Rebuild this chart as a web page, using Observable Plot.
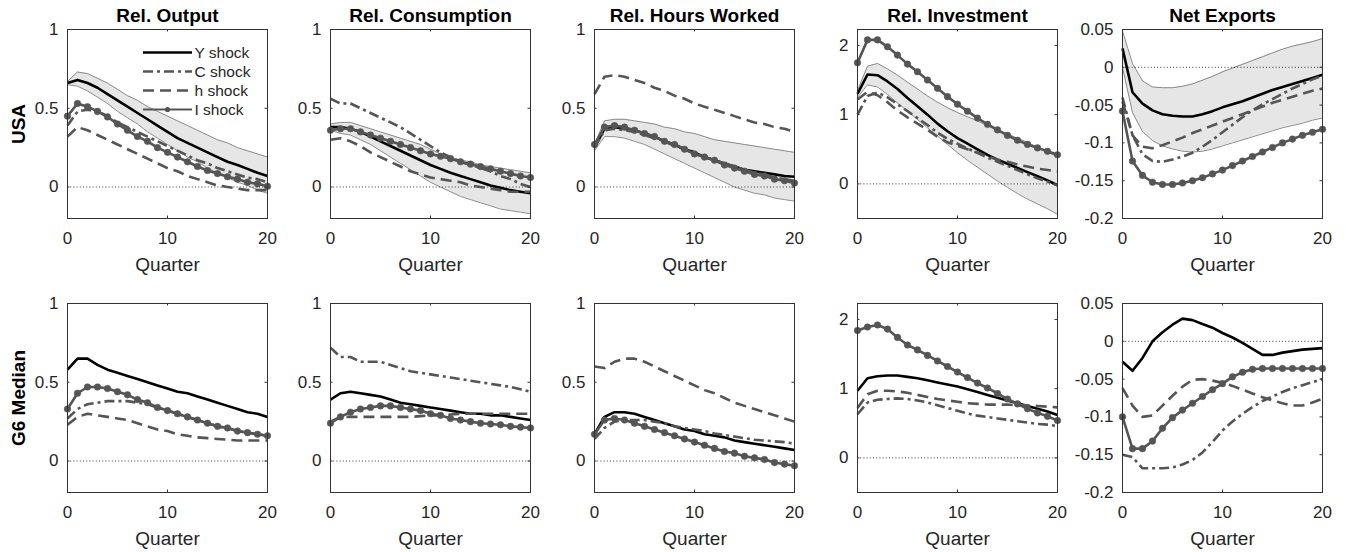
<!DOCTYPE html>
<html><head><meta charset="utf-8">
<script src="https://cdn.jsdelivr.net/npm/d3@7"></script>
<script src="https://cdn.jsdelivr.net/npm/@observablehq/plot@0.6"></script>
<style>
body{margin:0;background:#fff;}
#fig{position:relative;width:1346px;height:552px;overflow:hidden;background:#fff;}
</style></head><body><div id="fig"></div>
<script>
// ---------------- DATA ----------------
const quarters = [0,1,2,3,4,5,6,7,8,9,10,11,12,13,14,15,16,17,18,19,20];
const shocks = ["Y shock","C shock","h shock","I shock"];
const panelTitles = ["Rel. Output","Rel. Consumption","Rel. Hours Worked","Rel. Investment","Net Exports"];
const regions = ["USA","G6 Median"];
const xTicks = [0,10,20];
const yTicksSmall = [0,0.5,1];
const yTicksInv = [0,1,2];
const yTicksNX = [-0.2,-0.15,-0.1,-0.05,0,0.05];

// USA – Rel. Output
const usaOutY  = [.66,.68,.66,.63,.59,.55,.51,.47,.43,.39,.35,.31,.28,.25,.22,.19,.16,.14,.115,.09,.07];
const usaOutHi = [.67,.73,.72,.69,.66,.62,.58,.55,.51,.48,.45,.42,.39,.36,.33,.30,.28,.25,.23,.21,.19];
const usaOutLo = [.65,.64,.61,.57,.53,.48,.44,.40,.35,.31,.27,.23,.19,.16,.12,.09,.06,.03,.01,-.02,-.04];
const usaOutC  = [.39,.48,.49,.48,.45,.41,.38,.35,.32,.29,.26,.23,.20,.17,.15,.12,.10,.08,.06,.05,.03];
const usaOutH  = [.32,.38,.36,.33,.30,.27,.24,.21,.18,.15,.12,.10,.07,.05,.03,.01,0,-.01,-.02,-.02,-.02];
const usaOutI  = [.45,.53,.51,.48,.445,.40,.36,.32,.29,.25,.22,.19,.16,.13,.105,.085,.065,.05,.03,.02,.005];
// USA – Rel. Consumption
const usaConY  = [.38,.38,.37,.35,.32,.29,.26,.23,.20,.17,.14,.115,.09,.07,.05,.03,.01,-.005,-.02,-.03,-.04];
const usaConHi = [.40,.41,.41,.39,.37,.35,.33,.31,.29,.27,.24,.21,.19,.17,.16,.14,.13,.12,.11,.10,.09];
const usaConLo = [.36,.34,.33,.30,.27,.23,.19,.15,.11,.07,.03,0,-.03,-.06,-.08,-.10,-.12,-.14,-.15,-.16,-.17];
const usaConC  = [.56,.53,.53,.50,.47,.44,.41,.38,.34,.30,.26,.22,.19,.16,.14,.12,.10,.07,.05,.02,0];
const usaConH  = [.30,.31,.29,.26,.22,.19,.16,.13,.10,.08,.06,.05,.04,.03,.01,0,-.01,-.02,-.03,-.03,-.03];
const usaConI  = [.36,.37,.37,.35,.33,.31,.29,.27,.25,.23,.21,.195,.18,.16,.145,.13,.115,.10,.085,.07,.06];
// USA – Rel. Hours Worked
const usaHrsY  = [.25,.37,.38,.37,.36,.34,.32,.29,.27,.24,.22,.19,.17,.15,.13,.11,.10,.09,.08,.07,.065];
const usaHrsHi = [.27,.42,.43,.43,.42,.41,.40,.38,.37,.35,.34,.32,.30,.29,.28,.27,.26,.25,.24,.23,.22];
const usaHrsLo = [.23,.32,.32,.31,.29,.27,.24,.21,.18,.15,.12,.09,.06,.03,0,-.02,-.04,-.05,-.07,-.08,-.09];
const usaHrsC  = [.25,.36,.37,.36,.35,.33,.31,.29,.26,.24,.21,.19,.17,.15,.13,.11,.09,.08,.06,.05,.04];
const usaHrsH  = [.59,.70,.71,.70,.68,.66,.63,.61,.58,.56,.53,.51,.49,.47,.45,.43,.41,.40,.38,.37,.35];
const usaHrsI  = [.27,.38,.39,.38,.36,.34,.32,.29,.27,.24,.21,.19,.17,.14,.12,.10,.08,.07,.05,.04,.025];
// USA – Rel. Investment
const usaInvY  = [1.30,1.58,1.57,1.48,1.37,1.24,1.12,1.00,.87,.76,.66,.58,.50,.42,.35,.29,.23,.17,.11,.05,-.02];
const usaInvHi = [1.35,1.70,1.74,1.66,1.57,1.47,1.37,1.27,1.18,1.10,1.03,.97,.91,.84,.78,.72,.66,.60,.53,.46,.39];
const usaInvLo = [1.25,1.43,1.40,1.29,1.17,1.05,.93,.81,.69,.57,.45,.34,.24,.14,.04,-.05,-.14,-.22,-.29,-.36,-.44];
const usaInvC  = [1.00,1.27,1.32,1.25,1.15,1.05,.95,.85,.74,.65,.58,.51,.45,.38,.32,.26,.20,.14,.08,.03,-.02];
const usaInvH  = [1.22,1.33,1.28,1.18,1.06,.96,.87,.78,.68,.60,.55,.50,.45,.40,.35,.32,.28,.25,.22,.20,.18];
const usaInvI  = [1.75,2.08,2.08,1.98,1.86,1.73,1.62,1.50,1.38,1.26,1.15,1.05,.95,.86,.78,.70,.63,.57,.52,.47,.42];
// USA – Net Exports
const usaNxY  = [.025,-.033,-.048,-.057,-.062,-.064,-.065,-.065,-.062,-.058,-.053,-.049,-.045,-.040,-.035,-.030,-.026,-.022,-.018,-.014,-.010];
const usaNxHi = [.048,.005,-.018,-.026,-.027,-.027,-.025,-.022,-.017,-.012,-.006,-.001,.004,.009,.014,.019,.024,.028,.031,.034,.038];
const usaNxLo = [0,-.06,-.085,-.097,-.104,-.108,-.111,-.112,-.111,-.108,-.104,-.100,-.096,-.092,-.088,-.084,-.080,-.077,-.074,-.070,-.067];
const usaNxC  = [-.04,-.09,-.115,-.124,-.125,-.122,-.118,-.113,-.105,-.096,-.086,-.076,-.066,-.057,-.049,-.042,-.035,-.028,-.022,-.016,-.011];
const usaNxH  = [-.045,-.09,-.105,-.107,-.103,-.098,-.093,-.087,-.082,-.077,-.072,-.067,-.062,-.057,-.052,-.047,-.043,-.039,-.035,-.031,-.028];
const usaNxI  = [-.058,-.124,-.143,-.152,-.155,-.155,-.153,-.150,-.146,-.141,-.136,-.130,-.124,-.118,-.112,-.106,-.100,-.095,-.090,-.086,-.082];
// G6 Median – Rel. Output
const g6OutY = [.58,.65,.65,.61,.58,.56,.54,.52,.50,.48,.46,.44,.43,.41,.39,.37,.35,.33,.31,.30,.28];
const g6OutC = [.27,.33,.36,.37,.38,.38,.38,.37,.36,.34,.32,.30,.28,.26,.24,.22,.21,.19,.18,.17,.16];
const g6OutH = [.23,.28,.30,.29,.28,.27,.26,.24,.22,.20,.19,.17,.16,.15,.145,.14,.135,.13,.13,.13,.13];
const g6OutI = [.33,.43,.47,.47,.46,.44,.42,.39,.37,.34,.32,.30,.28,.26,.24,.22,.21,.19,.18,.17,.16];
// G6 Median – Rel. Consumption
const g6ConY = [.39,.43,.44,.43,.42,.41,.39,.37,.36,.35,.34,.33,.32,.31,.30,.30,.29,.29,.28,.27,.26];
const g6ConC = [.72,.66,.66,.63,.63,.63,.61,.59,.57,.56,.55,.54,.53,.52,.51,.50,.49,.48,.47,.455,.44];
const g6ConH = [.25,.28,.28,.28,.28,.28,.28,.28,.28,.285,.29,.29,.295,.30,.30,.30,.30,.30,.30,.30,.30];
const g6ConI = [.24,.28,.31,.33,.34,.35,.35,.34,.33,.32,.30,.29,.27,.26,.25,.24,.235,.23,.22,.215,.21];
// G6 Median – Rel. Hours Worked
const g6HrsY = [.17,.28,.31,.31,.30,.28,.26,.24,.22,.20,.19,.17,.16,.15,.13,.12,.11,.10,.09,.08,.07];
const g6HrsC = [.14,.21,.25,.26,.26,.26,.25,.24,.22,.21,.20,.19,.175,.165,.155,.145,.135,.13,.125,.12,.11];
const g6HrsH = [.60,.59,.63,.65,.65,.63,.60,.57,.54,.51,.48,.45,.43,.40,.37,.35,.33,.31,.29,.27,.25];
const g6HrsI = [.17,.26,.27,.26,.24,.22,.20,.18,.16,.14,.12,.10,.08,.06,.05,.03,.02,.01,-.01,-.02,-.03];
// G6 Median – Rel. Investment
const g6InvY = [.97,1.15,1.18,1.19,1.19,1.17,1.15,1.12,1.09,1.06,1.03,.99,.95,.91,.87,.83,.79,.75,.71,.67,.62];
const g6InvC = [.63,.80,.84,.85,.86,.85,.83,.80,.76,.72,.68,.64,.61,.59,.57,.55,.53,.51,.49,.48,.46];
const g6InvH = [.72,.92,.97,.97,.96,.94,.91,.88,.85,.83,.81,.79,.78,.77,.77,.77,.76,.76,.75,.74,.73];
const g6InvI = [1.84,1.89,1.92,1.86,1.74,1.63,1.56,1.48,1.40,1.32,1.24,1.16,1.08,1.01,.93,.85,.78,.71,.65,.60,.54];
// G6 Median – Net Exports
const g6NxY = [-.027,-.039,-.022,0,.012,.022,.030,.028,.023,.018,.011,.005,-.002,-.010,-.018,-.018,-.015,-.013,-.011,-.010,-.009];
const g6NxC = [-.150,-.153,-.168,-.168,-.168,-.167,-.163,-.157,-.147,-.133,-.118,-.106,-.096,-.087,-.079,-.073,-.067,-.062,-.058,-.054,-.050];
const g6NxH = [-.062,-.085,-.100,-.098,-.085,-.072,-.060,-.051,-.050,-.052,-.055,-.059,-.064,-.069,-.074,-.078,-.082,-.085,-.085,-.081,-.076];
const g6NxI = [-.100,-.142,-.142,-.132,-.115,-.101,-.091,-.082,-.073,-.064,-.056,-.047,-.041,-.037,-.036,-.036,-.036,-.036,-.036,-.036,-.036];

// ---------------- PANEL TABLE ----------------
const panels = [
  {row:0,col:0,vals:[usaOutY,usaOutC,usaOutH,usaOutI],lo:usaOutLo,hi:usaOutHi},
  {row:0,col:1,vals:[usaConY,usaConC,usaConH,usaConI],lo:usaConLo,hi:usaConHi},
  {row:0,col:2,vals:[usaHrsY,usaHrsC,usaHrsH,usaHrsI],lo:usaHrsLo,hi:usaHrsHi},
  {row:0,col:3,vals:[usaInvY,usaInvC,usaInvH,usaInvI],lo:usaInvLo,hi:usaInvHi},
  {row:0,col:4,vals:[usaNxY,usaNxC,usaNxH,usaNxI],lo:usaNxLo,hi:usaNxHi},
  {row:1,col:0,vals:[g6OutY,g6OutC,g6OutH,g6OutI]},
  {row:1,col:1,vals:[g6ConY,g6ConC,g6ConH,g6ConI]},
  {row:1,col:2,vals:[g6HrsY,g6HrsC,g6HrsH,g6HrsI]},
  {row:1,col:3,vals:[g6InvY,g6InvC,g6InvH,g6InvI]},
  {row:1,col:4,vals:[g6NxY,g6NxC,g6NxH,g6NxI]}
];
const yDomains = [[-0.2,1],[-0.2,1],[-0.2,1],[-0.5,2.23],[-0.2,0.05]];
const yTicksByCol = [yTicksSmall,yTicksSmall,yTicksSmall,yTicksInv,yTicksNX];

// ---------------- STYLE ----------------
const FONT = '"Liberation Sans", Arial, Helvetica, sans-serif';
const TXT = "#262626";
const GRAY = "#555555";
const style = {
  "Y shock": {stroke:"#000000", dash:null, w:2.6},
  "C shock": {stroke:GRAY, dash:"10,4,3,4", w:2.6},
  "h shock": {stroke:GRAY, dash:"11,6", w:2.6},
  "I shock": {stroke:GRAY, dash:null, w:2.6}
};
const colLeft = [66.7, 330, 594.3, 857.3, 1121.7];
const rowTop = [29.3, 302.7];
const W = 200, H = 189;
const M = {l:66, r:14, t:32, b:60};

const fig = document.getElementById("fig");

for (const p of panels) {
  const {row, col} = p;
  const series = shocks.map((s,k) => quarters.map((q,i) => ({q, v: p.vals[k][i], shock: s})));
  const marks = [];
  if (p.lo) {
    const band = quarters.map((q,i) => ({q, lo: p.lo[i], hi: p.hi[i]}));
    marks.push(Plot.areaY(band, {x:"q", y1:"lo", y2:"hi", fill:"#e6e6e6"}));
    marks.push(Plot.line(band, {x:"q", y:"lo", stroke:"#707070", strokeWidth:0.8}));
    marks.push(Plot.line(band, {x:"q", y:"hi", stroke:"#707070", strokeWidth:0.8}));
  }
  marks.push(Plot.ruleY([0], {stroke:TXT, strokeWidth:0.9, strokeDasharray:"1,2.2"}));
  shocks.forEach((s,k) => {
    const st = style[s];
    marks.push(Plot.line(series[k], {x:"q", y:"v", stroke:st.stroke, strokeWidth:st.w,
      strokeDasharray:st.dash, strokeLinejoin:"round", strokeLinecap:"butt"}));
  });
  marks.push(Plot.dot(series[3], {x:"q", y:"v", r:3.3, fill:GRAY, stroke:GRAY, strokeWidth:0.5}));
  // frame and inward ticks (box on, mirrored)
  marks.push(Plot.frame({stroke:"#333333", strokeWidth:1}));
  marks.push(Plot.tickX(xTicks, {x:d=>d, insetTop:H-2.5, stroke:"#333333"}));
  marks.push(Plot.tickX(xTicks, {x:d=>d, insetBottom:H-2.5, stroke:"#333333"}));
  marks.push(Plot.tickY(yTicksByCol[col], {y:d=>d, insetRight:W-2.5, stroke:"#333333"}));
  marks.push(Plot.tickY(yTicksByCol[col], {y:d=>d, insetLeft:W-2.5, stroke:"#333333"}));
  marks.push(Plot.axisX(xTicks, {tickSize:0, tickPadding:13.5, fontSize:17, label:null, fill:TXT}));
  marks.push(Plot.axisY(yTicksByCol[col], {tickSize:0, tickPadding:9, fontSize:17, label:null,
    tickFormat:d=>String(d), fill:TXT}));
  marks.push(Plot.text(["Quarter"], {text:d=>d, frameAnchor:"bottom", dy:46, lineAnchor:"middle",
    fontSize:19, fill:TXT}));
  if (row === 0) {
    marks.push(Plot.text([panelTitles[col]], {text:d=>d, frameAnchor:"top", dy:-14, lineAnchor:"middle",
      fontSize:19, fontWeight:"bold", fill:"#000"}));
  }
  if (col === 0) {
    marks.push(Plot.text([regions[row]], {text:d=>d, frameAnchor:"left", dx:-49, rotate:-90,
      textAnchor:"middle", lineAnchor:"middle", fontSize:19, fontWeight:"bold", fill:"#000"}));
  }
  const svg = Plot.plot({
    width: M.l+W+M.r, height: M.t+H+M.b,
    marginLeft:M.l, marginRight:M.r, marginTop:M.t, marginBottom:M.b,
    x:{domain:[0,20]}, y:{domain:yDomains[col]},
    style:{background:"transparent", overflow:"visible", color:TXT, fontFamily:FONT, fontSize:"17px"},
    marks
  });
  svg.style.position = "absolute";
  svg.style.left = (colLeft[col]-M.l) + "px";
  svg.style.top = (rowTop[row]-M.t) + "px";
  svg.style.maxWidth = "none";
  fig.appendChild(svg);

  // legend inside the first panel
  if (row === 0 && col === 0) {
    const g = d3.select(svg).append("g")
      .attr("transform", `translate(${M.l},${M.t})`)
      .attr("font-family", FONT).attr("font-size", "15.5px")
      .attr("text-anchor", "start");
    shocks.forEach((s,k) => {
      const st = style[s];
      const y = 23.5 + 19*k;
      g.append("line").attr("x1",76).attr("x2",125).attr("y1",y).attr("y2",y)
        .attr("stroke",st.stroke).attr("stroke-width", s==="I shock" ? 2 : st.w)
        .attr("stroke-dasharray", st.dash);
      if (s === "I shock") g.append("circle").attr("cx",100.5).attr("cy",y).attr("r",2.6).attr("fill",GRAY);
      g.append("text").attr("x",127.5).attr("y",y).attr("dy","0.35em")
        .attr("text-anchor","start").attr("fill",TXT).text(s);
    });
  }
}
</script>
</body></html>
